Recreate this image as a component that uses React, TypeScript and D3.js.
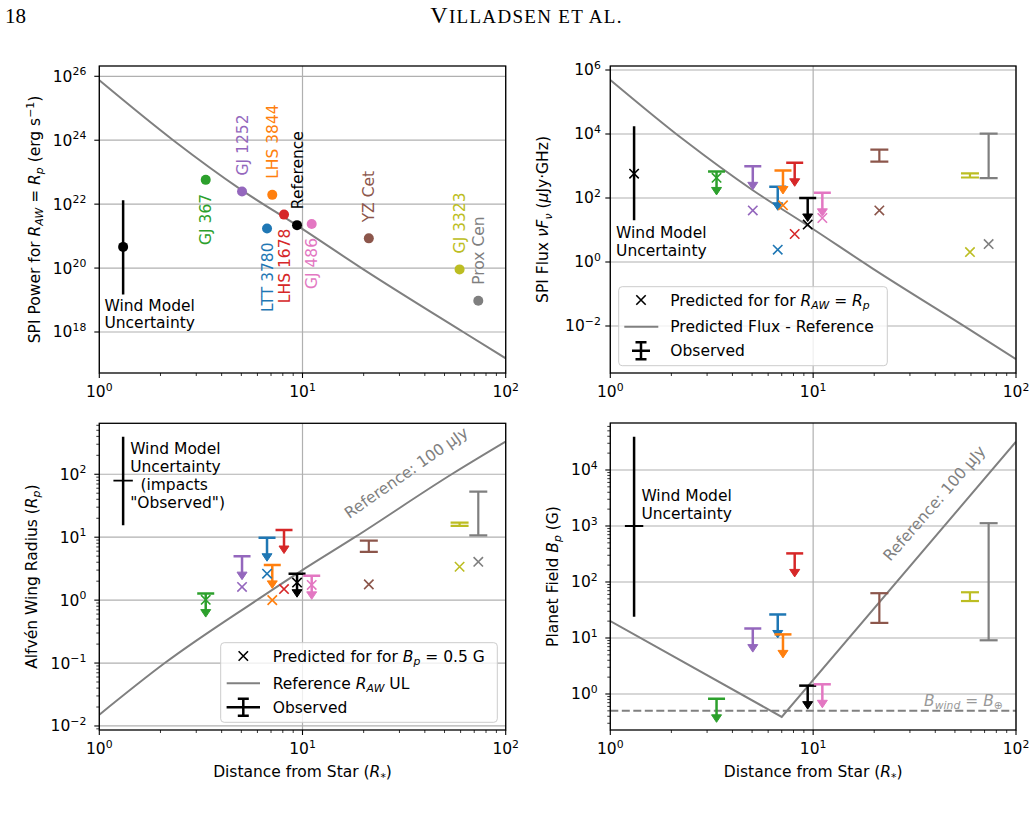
import React from "react";
import * as d3 from "d3";

// ---- values ----
const stars = ["GJ 367", "GJ 1252", "LTT 3780", "LHS 3844", "LHS 1678", "Reference", "GJ 486", "YZ Cet", "GJ 3323", "Prox Cen"];
const distance = [3.34, 5.04, 6.69, 7.1, 8.11, 9.4, 11.1, 21.2, 59.3, 73.3];

// top-left: SPI power (erg/s) for R_AW = R_p
const spiPower = [5.75e22, 2.5e22, 1.74e21, 1.95e22, 4.7e21, 2.2e21, 2.4e21, 8.5e20, 9.1e19, 9.5e18];

// top-right: SPI flux (uJy GHz)
const fluxPredicted = [427, 40.7, 2.43, 58.9, 7.5, 14.8, 23.7, 40.7, 2.04, 3.63];
const fluxUpper = [676, 977, 224, 724, 1259, 100, 145];
const fluxDetLow = [1365, 437, 417];
const fluxDetHigh = [3236, 589, 10233];

// bottom-left: Alfven wing radius (R_p)
const wingPredicted = [1.01, 1.62, 2.63, 1.0, 1.5, 1.9, 1.74, 1.78, 3.39, 4.07];
const wingUpper = [1.27, 5.0, 9.8, 3.63, 13.0, 2.63, 2.43];
const wingDetLow = [5.85, 15.1, 10.7];
const wingDetHigh = [8.83, 17.0, 53.1];

// bottom-right: planet field (G)
const fieldUpper = [0.82, 14.7, 26.3, 11.6, 324, 1.41, 1.49];
const fieldDetLow = [18.6, 45.7, 9.1];
const fieldDetHigh = [63.1, 65.5, 1122];
const earthField = 0.5;

// wind model uncertainty [low, centre, high]
const windDistance = 1.31;
const windPower = [1.5e19, 4.6e20, 1.33e22];
const windFlux = [20, 575, 17400];
const windWing = [15.5, 79, 395];
const windField = [24, 1000, 39400];

// reference curves
const powerCurveDist = [1, 2.31, 5.02, 9.35, 19.5, 61.8, 100];
const powerCurve = [7.5e25, 1e24, 2.75e22, 2.2e21, 1e20, 1e18, 1.5e17];
const fluxCurve = [4.9e5, 6.46e3, 178, 14.1, 0.646, 6.46e-3, 9.2e-4];
const wingCurveDist = [1, 2.1, 5.96, 9.73, 18.1, 54.2, 100];
const wingCurve = [0.0151, 0.1, 1, 2.84, 10, 100, 331];
const fieldCurveDist = [1, 7.0, 100];
const fieldCurve = [20, 0.39, 32000];

// ---- styling ----
const starColors = ["#2ca02c", "#9467bd", "#1f77b4", "#ff7f0e", "#d62728", "#000000", "#e377c2", "#8c564b", "#bcbd22", "#7f7f7f"];
const labelAbove = [false, true, false, true, false, true, false, true, true, true];
const FONT = "DejaVu Sans, sans-serif";
const FS = 15.5;
const GRAY = "#808080";
const EW = 2.5;

const expLabel = (e) => (e < 0 ? "\u2212" + -e : String(e));

// rich text: segments with italic / sub / sup flags
const Rich = ({ segs }) => {
  let cur = 0;
  return (
    <>
      {segs.map((s, k) => {
        const target = s.sub ? 3.5 : s.sup ? -6 : 0;
        const dy = target - cur;
        cur = target;
        return (
          <tspan key={k} dy={dy !== 0 ? dy : undefined} fontStyle={s.i ? "italic" : undefined}
            fontSize={s.sub || s.sup ? "0.7em" : undefined}>
            {s.t}
          </tspan>
        );
      })}
    </>
  );
};

const XMark = ({ x, y, color }) => {
  const s = 4.7;
  return (
    <path d={`M${x - s},${y - s}L${x + s},${y + s}M${x - s},${y + s}L${x + s},${y - s}`}
      stroke={color} strokeWidth={1.6} fill="none" />
  );
};

const UpperLimit = ({ x, y, color }) => (
  <g stroke={color} fill={color}>
    <line x1={x - 8.5} x2={x + 8.5} y1={y} y2={y} strokeWidth={EW} />
    <line x1={x} x2={x} y1={y} y2={y + 17} strokeWidth={EW} />
    <path d={`M${x - 5},${y + 16}L${x + 5},${y + 16}L${x},${y + 23.5}Z`} strokeWidth={1} />
  </g>
);

const Detection = ({ x, lo, hi, color }) => (
  <g stroke={color} strokeWidth={2.2}>
    <line x1={x} x2={x} y1={lo} y2={hi} />
    <line x1={x - 9} x2={x + 9} y1={lo} y2={lo} />
    <line x1={x - 9} x2={x + 9} y1={hi} y2={hi} />
  </g>
);

const ObservedHandle = ({ x, y, half }) => (
  <g stroke="#000" strokeWidth={EW}>
    <line x1={x - half} x2={x + half} y1={y} y2={y} />
    <line x1={x} x2={x} y1={y - 8.5} y2={y + 8.5} />
    <line x1={x - 5.5} x2={x + 5.5} y1={y - 8.5} y2={y - 8.5} />
    <line x1={x - 5.5} x2={x + 5.5} y1={y + 8.5} y2={y + 8.5} />
  </g>
);

const curvePath = (xs, ys, dist, vals, curve = d3.curveMonotoneX) =>
  d3.line().x((d) => xs(d[0])).y((d) => ys(d[1])).curve(curve)(d3.zip(dist, vals));

const Panel = ({ id, x0, x1, y0, y1, yDomain, yMajor, yMinor, xTitle, yTitle, yTitleX, tickGap, children }) => {
  const xs = d3.scaleLog().domain([1, 100]).range([x0, x1]);
  const ys = d3.scaleLog().domain(yDomain).range([y1, y0]);
  const xMajor = [0, 1, 2];
  const xMinor = d3.range(2, 10).flatMap((m) => [m, m * 10]);
  const yMinorTicks = [];
  if (yMinor) {
    for (let k = Math.floor(Math.log10(yDomain[0])); k <= Math.ceil(Math.log10(yDomain[1])); k++) {
      for (let m = 2; m < 10; m++) {
        const v = m * Math.pow(10, k);
        if (v > yDomain[0] && v < yDomain[1]) yMinorTicks.push(v);
      }
    }
  }
  return (
    <g fontFamily={FONT} fontSize={FS}>
      <clipPath id={id}>
        <rect x={x0} y={y0} width={x1 - x0} height={y1 - y0} />
      </clipPath>
      {xMajor.map((e) => (
        <line key={"gx" + e} x1={xs(10 ** e)} x2={xs(10 ** e)} y1={y0} y2={y1} stroke="#b0b0b0" strokeWidth={1.2} />
      ))}
      {yMajor.map((e) => (
        <line key={"gy" + e} x1={x0} x2={x1} y1={ys(10 ** e)} y2={ys(10 ** e)} stroke="#b0b0b0" strokeWidth={1.2} />
      ))}
      <g clipPath={`url(#${id})`}>{children(xs, ys)}</g>
      <rect x={x0} y={y0} width={x1 - x0} height={y1 - y0} fill="none" stroke="#000" strokeWidth={1.3} />
      {xMajor.map((e) => (
        <g key={"tx" + e}>
          <line x1={xs(10 ** e)} x2={xs(10 ** e)} y1={y1} y2={y1 + 5} stroke="#000" strokeWidth={1.1} />
          <text x={xs(10 ** e)} y={y1 + 24} textAnchor="middle">
            10<tspan fontSize="0.7em" dy={-6.5}>{e}</tspan>
          </text>
        </g>
      ))}
      {xMinor.map((v) => (
        <line key={"mx" + v} x1={xs(v)} x2={xs(v)} y1={y1} y2={y1 + 3} stroke="#000" strokeWidth={0.8} />
      ))}
      {yMajor.map((e) => (
        <g key={"ty" + e}>
          <line x1={x0 - 5} x2={x0} y1={ys(10 ** e)} y2={ys(10 ** e)} stroke="#000" strokeWidth={1.1} />
          <text x={x0 - tickGap} y={ys(10 ** e) + 5.5} textAnchor="end">
            10<tspan fontSize="0.7em" dy={-6.5}>{expLabel(e)}</tspan>
          </text>
        </g>
      ))}
      {yMinorTicks.map((v) => (
        <line key={"my" + v} x1={x0 - 3} x2={x0} y1={ys(v)} y2={ys(v)} stroke="#000" strokeWidth={0.8} />
      ))}
      {xTitle && (
        <text x={(x0 + x1) / 2} y={777} textAnchor="middle">
          <Rich segs={[{ t: "Distance from Star (" }, { t: "R", i: true }, { t: "*", sub: true }, { t: ")" }]} />
        </text>
      )}
      <text transform={`translate(${yTitleX},${(y0 + y1) / 2}) rotate(-90)`} textAnchor="middle">
        <Rich segs={yTitle} />
      </text>
    </g>
  );
};

export default function App() {
  const upperIdx = d3.range(7);
  const detIdx = [7, 8, 9];

  return (
    <div style={{ position: "absolute", left: 0, top: 0 }}>
      <svg width={1035} height={821} viewBox="0 0 1035 821" style={{ display: "block", background: "#fff" }}>
        <text x={5} y={23.3} fontFamily="Liberation Serif, serif" fontSize={21}>18</text>
        <text x={526.5} y={23.3} fontFamily="Liberation Serif, serif" textAnchor="middle" letterSpacing={1.3}>
          <tspan fontSize={24}>V</tspan>
          <tspan fontSize={19}>ILLADSEN ET AL.</tspan>
        </text>

        {/* top-left: SPI power */}
        <Panel id="c1" x0={99.3} x1={505.7} y0={66} y1={373} yDomain={[10 ** 16.717, 10 ** 26.322]}
          yMajor={[18, 20, 22, 24, 26]} yMinor={false} xTitle={false} tickGap={13} yTitleX={39.5}
          yTitle={[{ t: "SPI Power for " }, { t: "R", i: true }, { t: "AW", i: true, sub: true }, { t: " = " },
            { t: "R", i: true }, { t: "p", i: true, sub: true }, { t: " (erg s" }, { t: "\u22121", sup: true }, { t: ")" }]}>
          {(xs, ys) => (
            <>
              <path d={curvePath(xs, ys, powerCurveDist, powerCurve)} fill="none" stroke={GRAY} strokeWidth={2} />
              <line x1={xs(windDistance)} x2={xs(windDistance)} y1={ys(windPower[0])} y2={ys(windPower[2])} stroke="#000" strokeWidth={EW} />
              <circle cx={xs(windDistance)} cy={ys(windPower[1])} r={5} fill="#000" />
              <text x={xs(windDistance) - 18.7} y={ys(windPower[0]) + 16.5}>Wind Model</text>
              <text x={xs(windDistance) - 18.7} y={ys(windPower[0]) + 34}>Uncertainty</text>
              {stars.map((s, i) => (
                <g key={s}>
                  <circle cx={xs(distance[i])} cy={ys(spiPower[i])} r={5} fill={starColors[i]} />
                  <text
                    transform={`translate(${xs(distance[i])},${ys(spiPower[i]) + (labelAbove[i] ? -16 : 14)}) rotate(-90)`}
                    textAnchor={labelAbove[i] ? "start" : "end"} dy="0.36em" fill={starColors[i]}>
                    {s}
                  </text>
                </g>
              ))}
            </>
          )}
        </Panel>

        {/* top-right: SPI flux */}
        <Panel id="c2" x0={610.3} x1={1016} y0={66} y1={373} yDomain={[10 ** -3.469, 10 ** 6.125]}
          yMajor={[-2, 0, 2, 4, 6]} yMinor={false} xTitle={false} tickGap={9.5} yTitleX={548.3}
          yTitle={[{ t: "SPI Flux " }, { t: "\u03bdF", i: true }, { t: "\u03bd", i: true, sub: true }, { t: " (" },
            { t: "\u03bc", i: true }, { t: "Jy\u00b7GHz)" }]}>
          {(xs, ys) => (
            <>
              <path d={curvePath(xs, ys, powerCurveDist, fluxCurve)} fill="none" stroke={GRAY} strokeWidth={2} />
              <line x1={xs(windDistance)} x2={xs(windDistance)} y1={ys(windFlux[0])} y2={ys(windFlux[2])} stroke="#000" strokeWidth={EW} />
              <XMark x={xs(windDistance)} y={ys(windFlux[1])} color="#000" />
              <text x={xs(windDistance) - 18} y={ys(windFlux[0]) + 17.5}>Wind Model</text>
              <text x={xs(windDistance) - 18} y={ys(windFlux[0]) + 35.5}>Uncertainty</text>
              {upperIdx.map((i) => (
                <UpperLimit key={"u" + i} x={xs(distance[i])} y={ys(fluxUpper[i])} color={starColors[i]} />
              ))}
              {detIdx.map((i, j) => (
                <Detection key={"d" + i} x={xs(distance[i])} lo={ys(fluxDetLow[j])} hi={ys(fluxDetHigh[j])} color={starColors[i]} />
              ))}
              {stars.map((s, i) => (
                <XMark key={"x" + s} x={xs(distance[i])} y={ys(fluxPredicted[i])} color={starColors[i]} />
              ))}
              <rect x={618.7} y={286.7} width={268.6} height={79} rx={3.5} fill="#fff" fillOpacity={0.8} stroke="#cccccc" strokeWidth={1} />
              <XMark x={641} y={300} color="#000" />
              <text x={670.3} y={305.5}>
                <Rich segs={[{ t: "Predicted for for " }, { t: "R", i: true }, { t: "AW", i: true, sub: true }, { t: " = " },
                  { t: "R", i: true }, { t: "p", i: true, sub: true }]} />
              </text>
              <line x1={624.3} x2={658.3} y1={326.7} y2={326.7} stroke={GRAY} strokeWidth={2} />
              <text x={670.3} y={332.2}>Predicted Flux - Reference</text>
              <ObservedHandle x={641} y={350.7} half={9} />
              <text x={670.3} y={356.2}>Observed</text>
            </>
          )}
        </Panel>

        {/* bottom-left: Alfven wing radius */}
        <Panel id="c3" x0={99.3} x1={505.7} y0={423.3} y1={730} yDomain={[10 ** -2.064, 10 ** 2.81]}
          yMajor={[-2, -1, 0, 1, 2]} yMinor={true} xTitle={true} tickGap={13} yTitleX={36.5}
          yTitle={[{ t: "Alfvén Wing Radius (" }, { t: "R", i: true }, { t: "p", i: true, sub: true }, { t: ")" }]}>
          {(xs, ys) => (
            <>
              <path d={curvePath(xs, ys, wingCurveDist, wingCurve)} fill="none" stroke={GRAY} strokeWidth={2} />
              <text transform={`translate(${xs(17)},${ys(19.5)}) rotate(-35)`} fill={GRAY}>
                Reference: 100 {"\u03bc"}Jy
              </text>
              <line x1={xs(windDistance)} x2={xs(windDistance)} y1={ys(windWing[0])} y2={ys(windWing[2])} stroke="#000" strokeWidth={EW} />
              <line x1={xs(windDistance) - 9.7} x2={xs(windDistance) + 9.7} y1={ys(windWing[1])} y2={ys(windWing[1])} stroke="#000" strokeWidth={1.8} />
              <text x={xs(windDistance) + 7} y={454.3}>
                <tspan x={xs(windDistance) + 7}>Wind Model</tspan>
                <tspan x={xs(windDistance) + 7} dy={18}>Uncertainty</tspan>
                <tspan x={xs(windDistance) + 17.3} dy={18}>(impacts</tspan>
                <tspan x={xs(windDistance) + 7} dy={18}>"Observed")</tspan>
              </text>
              {upperIdx.map((i) => (
                <UpperLimit key={"u" + i} x={xs(distance[i])} y={ys(wingUpper[i])} color={starColors[i]} />
              ))}
              {detIdx.map((i, j) => (
                <Detection key={"d" + i} x={xs(distance[i])} lo={ys(wingDetLow[j])} hi={ys(wingDetHigh[j])} color={starColors[i]} />
              ))}
              {stars.map((s, i) => (
                <XMark key={"x" + s} x={xs(distance[i])} y={ys(wingPredicted[i])} color={starColors[i]} />
              ))}
              <rect x={220.7} y={642.7} width={276.6} height={79.6} rx={3.5} fill="#fff" fillOpacity={0.8} stroke="#cccccc" strokeWidth={1} />
              <XMark x={243.3} y={656} color="#000" />
              <text x={272.7} y={661.5}>
                <Rich segs={[{ t: "Predicted for for " }, { t: "B", i: true }, { t: "p", i: true, sub: true }, { t: " = 0.5 G" }]} />
              </text>
              <line x1={226.7} x2={260} y1={683.3} y2={683.3} stroke={GRAY} strokeWidth={2} />
              <text x={272.7} y={688.8}>
                <Rich segs={[{ t: "Reference " }, { t: "R", i: true }, { t: "AW", i: true, sub: true }, { t: " UL" }]} />
              </text>
              <ObservedHandle x={243.3} y={707.3} half={16.7} />
              <text x={272.7} y={712.8}>Observed</text>
            </>
          )}
        </Panel>

        {/* bottom-right: planet field */}
        <Panel id="c4" x0={610.3} x1={1016} y0={423} y1={730} yDomain={[10 ** -0.643, 10 ** 4.839]}
          yMajor={[0, 1, 2, 3, 4]} yMinor={true} xTitle={true} tickGap={12.6} yTitleX={557.7}
          yTitle={[{ t: "Planet Field " }, { t: "B", i: true }, { t: "p", i: true, sub: true }, { t: " (G)" }]}>
          {(xs, ys) => (
            <>
              <path d={curvePath(xs, ys, fieldCurveDist, fieldCurve, d3.curveLinear)} fill="none" stroke={GRAY} strokeWidth={2} />
              <line x1={xs(1)} x2={xs(100)} y1={ys(earthField)} y2={ys(earthField)} stroke={GRAY} strokeWidth={2} strokeDasharray="8,3.5" />
              <text x={924} y={ys(earthField) - 5} fill="#999">
                <Rich segs={[{ t: "B", i: true }, { t: "wind", i: true, sub: true }, { t: " = " }, { t: "B", i: true }, { t: "\u2295", sub: true }]} />
              </text>
              <text transform={`translate(${xs(24)},${ys(227)}) rotate(-49)`} fill={GRAY}>
                Reference: 100 {"\u03bc"}Jy
              </text>
              <line x1={xs(windDistance)} x2={xs(windDistance)} y1={ys(windField[0])} y2={ys(windField[2])} stroke="#000" strokeWidth={EW} />
              <line x1={xs(windDistance) - 9.2} x2={xs(windDistance) + 9.2} y1={ys(windField[1])} y2={ys(windField[1])} stroke="#000" strokeWidth={1.8} />
              <text x={xs(windDistance) + 7.3} y={501}>Wind Model</text>
              <text x={xs(windDistance) + 7.3} y={519}>Uncertainty</text>
              {upperIdx.map((i) => (
                <UpperLimit key={"u" + i} x={xs(distance[i])} y={ys(fieldUpper[i])} color={starColors[i]} />
              ))}
              {detIdx.map((i, j) => (
                <Detection key={"d" + i} x={xs(distance[i])} lo={ys(fieldDetLow[j])} hi={ys(fieldDetHigh[j])} color={starColors[i]} />
              ))}
            </>
          )}
        </Panel>
      </svg>
    </div>
  );
}
